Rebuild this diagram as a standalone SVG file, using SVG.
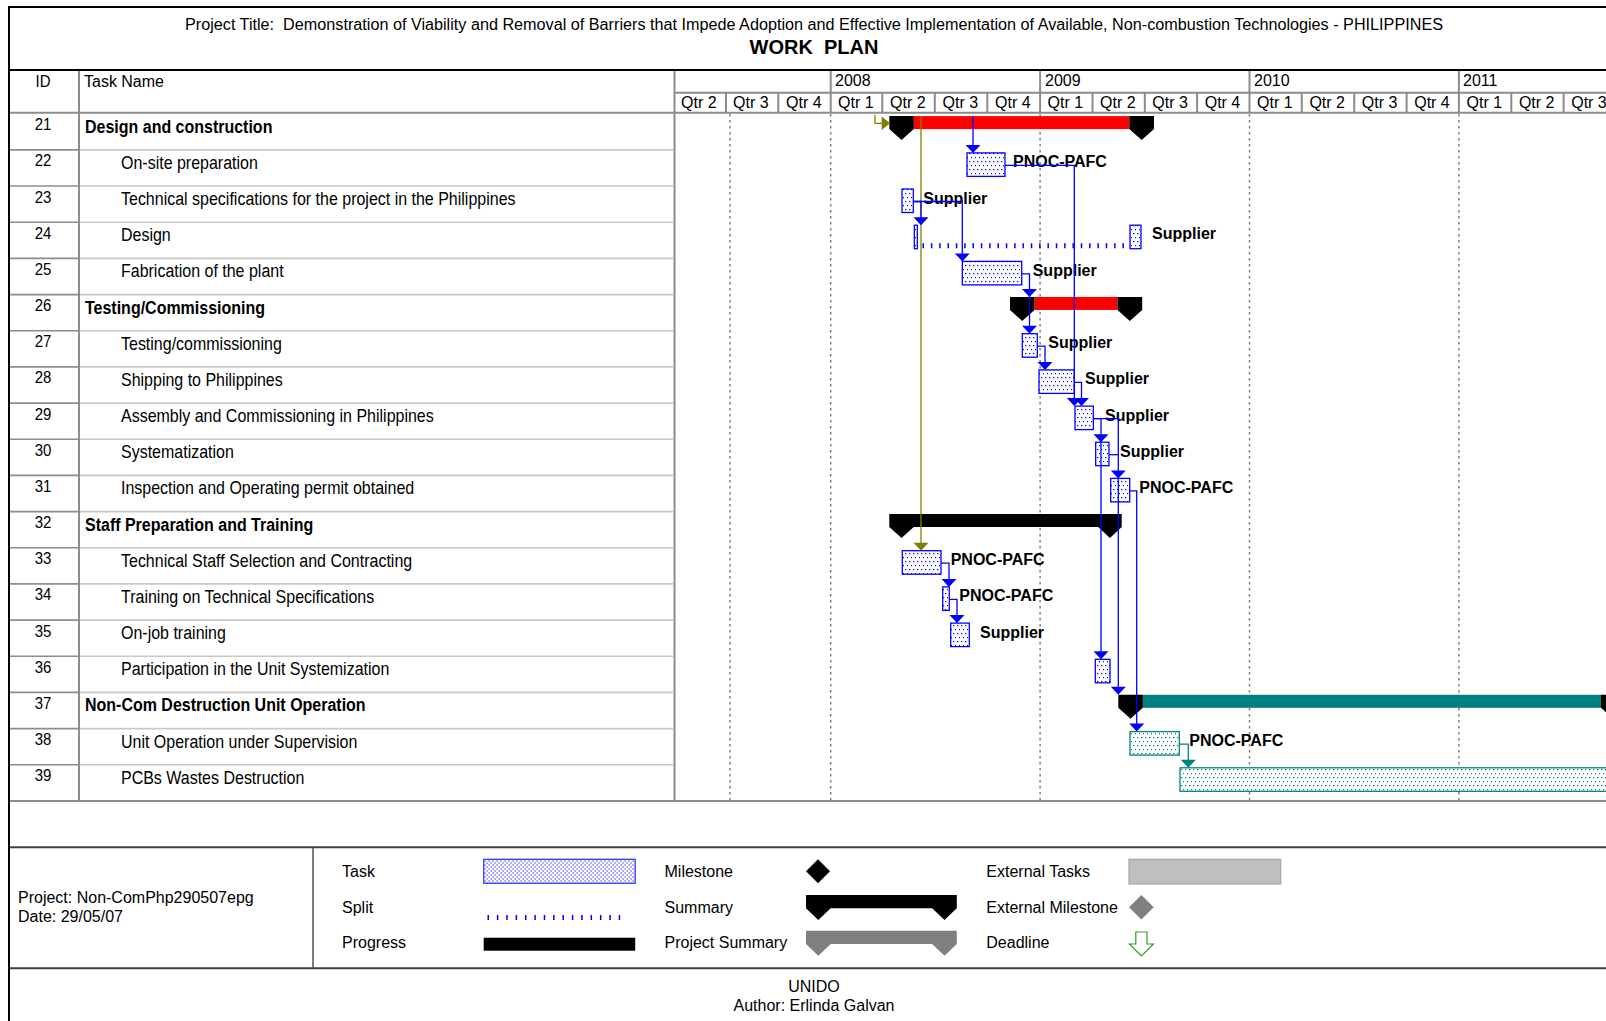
<svg xmlns="http://www.w3.org/2000/svg" width="1606" height="1021" viewBox="0 0 1606 1021">
<defs>
<style>
text{font-family:"Liberation Sans",Arial,sans-serif;font-size:16px;fill:#000}
.b{font-weight:bold}
.lbl{font-weight:bold}
.id{text-anchor:middle;font-size:15px}
.mid{text-anchor:middle}
.rl{stroke:#c8c8c8;stroke-width:1.6}
.rlid{stroke:#8c8c8c;stroke-width:1.6}
.grid{stroke:#808080;stroke-width:1.5;stroke-dasharray:2.5 3.5;fill:none}
.hl{stroke:#8c8c8c;stroke-width:2;fill:none}
.frame{stroke:#000;stroke-width:2;fill:none}
.fl{stroke:#404040;stroke-width:2;fill:none}
.task{fill:url(#dotB);stroke:#0000ff;stroke-width:1.3}
.ttask{fill:url(#dotT);stroke:#008080;stroke-width:1.3}
.lnk{fill:none;stroke:#0000ff;stroke-width:1.3}
.arr{fill:#0000ff}
.olnk{fill:none;stroke:#808000;stroke-width:1.3}
.oarr{fill:#808000}
.tlnk{fill:none;stroke:#008080;stroke-width:1.3}
.tarr{fill:#008080}
.split{fill:none;stroke:#0000ff;stroke-width:5}
</style>
<pattern id="dotB" width="4" height="8" patternUnits="userSpaceOnUse"><rect width="4" height="8" fill="#fff"/><rect x="1" y="1" width="1.3" height="1.2" fill="#0000ff"/><rect x="3" y="5" width="1" height="1.2" fill="#0000ff"/></pattern>
<pattern id="dotT" width="4" height="8" patternUnits="userSpaceOnUse"><rect width="4" height="8" fill="#fff"/><rect x="1" y="1" width="1.3" height="1.2" fill="#008080"/><rect x="3" y="5" width="1" height="1.2" fill="#008080"/></pattern>
<pattern id="dotL" width="4" height="4" patternUnits="userSpaceOnUse"><rect width="4" height="4" fill="#fff"/><rect x="0.5" y="0.5" width="1.2" height="1" fill="#0000ff"/><rect x="2.5" y="2.5" width="1.2" height="1" fill="#0000ff"/></pattern>
</defs>
<rect width="1606" height="1021" fill="#fff"/>

<g id="frame">
<line class="frame" x1="8" y1="7" x2="1606" y2="7"/>
<line class="frame" x1="9" y1="6" x2="9" y2="1021"/>
<line class="frame" x1="9" y1="70" x2="1606" y2="70"/>
<text class="mid" x="814" y="29.5" xml:space="preserve" textLength="1258" lengthAdjust="spacingAndGlyphs">Project Title:  Demonstration of Viability and Removal of Barriers that Impede Adoption and Effective Implementation of Available, Non-combustion Technologies - PHILIPPINES</text>
<text class="mid b" x="814" y="54" style="font-size:20px" xml:space="preserve">WORK  PLAN</text>
</g>

<g id="table-grid">
<line class="hl" x1="10" y1="112.7" x2="1606" y2="112.7"/>
<line class="hl" x1="674" y1="92.7" x2="1606" y2="92.7"/>
<line class="hl" x1="79" y1="71" x2="79" y2="801"/>
<line class="hl" x1="674.5" y1="71" x2="674.5" y2="801"/>
<line class="hl" x1="830.7" y1="71" x2="830.7" y2="112.7"/>
<line class="hl" x1="1040.1" y1="71" x2="1040.1" y2="112.7"/>
<line class="hl" x1="1249.5" y1="71" x2="1249.5" y2="112.7"/>
<line class="hl" x1="1458.9" y1="71" x2="1458.9" y2="112.7"/>
<g class="hl">
<line x1="726" y1="92.7" x2="726" y2="112.7"/><line x1="778.3" y1="92.7" x2="778.3" y2="112.7"/>
<line x1="882.3" y1="92.7" x2="882.3" y2="112.7"/><line x1="934.8" y1="92.7" x2="934.8" y2="112.7"/><line x1="987.3" y1="92.7" x2="987.3" y2="112.7"/>
<line x1="1092.5" y1="92.7" x2="1092.5" y2="112.7"/><line x1="1144.8" y1="92.7" x2="1144.8" y2="112.7"/><line x1="1197.1" y1="92.7" x2="1197.1" y2="112.7"/>
<line x1="1301.8" y1="92.7" x2="1301.8" y2="112.7"/><line x1="1354.2" y1="92.7" x2="1354.2" y2="112.7"/><line x1="1406.6" y1="92.7" x2="1406.6" y2="112.7"/>
<line x1="1511.3" y1="92.7" x2="1511.3" y2="112.7"/><line x1="1563.6" y1="92.7" x2="1563.6" y2="112.7"/>
</g>
<text class="id" transform="matrix(1,0,0,1.08,43,86.5)">ID</text>
<text transform="matrix(1,0,0,1.08,84,86.5)">Task Name</text>
<text x="835" y="86">2008</text><text x="1045" y="86">2009</text><text x="1254" y="86">2010</text><text x="1463" y="86">2011</text>
<text x="681" y="108.3">Qtr 2</text><text x="733" y="108.3">Qtr 3</text><text x="786" y="108.3">Qtr 4</text>
<text x="838" y="108.3">Qtr 1</text><text x="890" y="108.3">Qtr 2</text><text x="942.5" y="108.3">Qtr 3</text><text x="995" y="108.3">Qtr 4</text>
<text x="1047.5" y="108.3">Qtr 1</text><text x="1100" y="108.3">Qtr 2</text><text x="1152.3" y="108.3">Qtr 3</text><text x="1204.7" y="108.3">Qtr 4</text>
<text x="1257" y="108.3">Qtr 1</text><text x="1309.4" y="108.3">Qtr 2</text><text x="1361.8" y="108.3">Qtr 3</text><text x="1414.2" y="108.3">Qtr 4</text>
<text x="1466.5" y="108.3">Qtr 1</text><text x="1518.9" y="108.3">Qtr 2</text><text x="1571.2" y="108.3">Qtr 3</text>
<g class="rlid">
<line x1="10" y1="149.9" x2="79" y2="149.9"/><line x1="10" y1="186.0" x2="79" y2="186.0"/><line x1="10" y1="222.2" x2="79" y2="222.2"/><line x1="10" y1="258.4" x2="79" y2="258.4"/><line x1="10" y1="294.6" x2="79" y2="294.6"/><line x1="10" y1="330.7" x2="79" y2="330.7"/><line x1="10" y1="366.9" x2="79" y2="366.9"/><line x1="10" y1="403.1" x2="79" y2="403.1"/><line x1="10" y1="439.2" x2="79" y2="439.2"/><line x1="10" y1="475.4" x2="79" y2="475.4"/><line x1="10" y1="511.6" x2="79" y2="511.6"/><line x1="10" y1="547.7" x2="79" y2="547.7"/><line x1="10" y1="583.9" x2="79" y2="583.9"/><line x1="10" y1="620.1" x2="79" y2="620.1"/><line x1="10" y1="656.3" x2="79" y2="656.3"/><line x1="10" y1="692.4" x2="79" y2="692.4"/><line x1="10" y1="728.6" x2="79" y2="728.6"/><line x1="10" y1="764.8" x2="79" y2="764.8"/>
</g>
<g class="rl">
<line x1="80" y1="149.9" x2="673.5" y2="149.9"/><line x1="80" y1="186.0" x2="673.5" y2="186.0"/><line x1="80" y1="222.2" x2="673.5" y2="222.2"/><line x1="80" y1="258.4" x2="673.5" y2="258.4"/><line x1="80" y1="294.6" x2="673.5" y2="294.6"/><line x1="80" y1="330.7" x2="673.5" y2="330.7"/><line x1="80" y1="366.9" x2="673.5" y2="366.9"/><line x1="80" y1="403.1" x2="673.5" y2="403.1"/><line x1="80" y1="439.2" x2="673.5" y2="439.2"/><line x1="80" y1="475.4" x2="673.5" y2="475.4"/><line x1="80" y1="511.6" x2="673.5" y2="511.6"/><line x1="80" y1="547.7" x2="673.5" y2="547.7"/><line x1="80" y1="583.9" x2="673.5" y2="583.9"/><line x1="80" y1="620.1" x2="673.5" y2="620.1"/><line x1="80" y1="656.3" x2="673.5" y2="656.3"/><line x1="80" y1="692.4" x2="673.5" y2="692.4"/><line x1="80" y1="728.6" x2="673.5" y2="728.6"/><line x1="80" y1="764.8" x2="673.5" y2="764.8"/>
</g>
<line class="hl" x1="10" y1="801" x2="1606" y2="801"/>
<g class="grid">
<line x1="730" y1="114" x2="730" y2="800"/><line x1="830.7" y1="114" x2="830.7" y2="800"/><line x1="1040.1" y1="114" x2="1040.1" y2="800"/><line x1="1249.5" y1="114" x2="1249.5" y2="800"/><line x1="1458.9" y1="114" x2="1458.9" y2="800"/>
</g>
</g>

<g id="task-21">
<text class="id" transform="matrix(1,0,0,1.08,43,130.2)">21</text>
<text class="b" transform="matrix(1,0,0,1.14,85,132.7)">Design and construction</text>
<rect x="913.8" y="116.1" width="215.5" height="13" fill="#ff0000"/>
<path d="M889.3,116.1H913.8V129.1L901.5,140.1L889.3,129.1Z" fill="#000"/>
<path d="M1129.3,116.1H1154V129.1L1141.6,140.1L1129.3,129.1Z" fill="#000"/>
</g>
<g id="task-22">
<text class="id" transform="matrix(1,0,0,1.08,43,166.4)">22</text>
<text transform="matrix(1,0,0,1.14,121,168.9)">On-site preparation</text>
<rect class="task" x="967" y="152.9" width="38" height="23.5"/>
<text class="lbl" x="1013" y="167.4">PNOC-PAFC</text>
</g>
<g id="task-23">
<text class="id" transform="matrix(1,0,0,1.08,43,202.5)">23</text>
<text transform="matrix(1,0,0,1.14,121,205)">Technical specifications for the project in the Philippines</text>
<rect class="task" x="902" y="189" width="11.3" height="23.5"/>
<text class="lbl" x="923.3" y="203.5">Supplier</text>
</g>
<g id="task-24">
<text class="id" transform="matrix(1,0,0,1.08,43,238.7)">24</text>
<text transform="matrix(1,0,0,1.14,121,241.2)">Design</text>
<rect class="task" x="914.3" y="225.2" width="3" height="23.5"/>
<path class="split" d="M922.5,245.8H1128" stroke-dasharray="1.5 6.83"/>
<rect class="task" x="1130" y="225.2" width="11" height="23.5"/>
<text class="lbl" x="1152" y="239.2">Supplier</text>
</g>
<g id="task-25">
<text class="id" transform="matrix(1,0,0,1.08,43,274.9)">25</text>
<text transform="matrix(1,0,0,1.14,121,277.4)">Fabrication of the plant</text>
<rect class="task" x="962.3" y="261.4" width="59.4" height="23.5"/>
<text class="lbl" x="1032.7" y="275.9">Supplier</text>
</g>
<g id="task-26">
<text class="id" transform="matrix(1,0,0,1.08,43,311.1)">26</text>
<text class="b" transform="matrix(1,0,0,1.14,85,313.6)">Testing/Commissioning</text>
<rect x="1034.5" y="296.95" width="83" height="13" fill="#ff0000"/>
<path d="M1010,296.95H1034.5V309.95L1022.2,320.95L1010,309.95Z" fill="#000"/>
<path d="M1117.5,296.95H1142.2V309.95L1129.8,320.95L1117.5,309.95Z" fill="#000"/>
</g>
<g id="task-27">
<text class="id" transform="matrix(1,0,0,1.08,43,347.2)">27</text>
<text transform="matrix(1,0,0,1.14,121,349.7)">Testing/commissioning</text>
<rect class="task" x="1022.3" y="333.7" width="15" height="23.5"/>
<text class="lbl" x="1048.3" y="348.2">Supplier</text>
</g>
<g id="task-28">
<text class="id" transform="matrix(1,0,0,1.08,43,383.4)">28</text>
<text transform="matrix(1,0,0,1.14,121,385.9)">Shipping to Philippines</text>
<rect class="task" x="1039" y="369.9" width="35.3" height="23.5"/>
<text class="lbl" x="1085" y="384.4">Supplier</text>
</g>
<g id="task-29">
<text class="id" transform="matrix(1,0,0,1.08,43,419.6)">29</text>
<text transform="matrix(1,0,0,1.14,121,422.1)">Assembly and Commissioning in Philippines</text>
<rect class="task" x="1075" y="406.1" width="18.3" height="23.5"/>
<text class="lbl" x="1105" y="420.6">Supplier</text>
</g>
<g id="task-30">
<text class="id" transform="matrix(1,0,0,1.08,43,455.7)">30</text>
<text transform="matrix(1,0,0,1.14,121,458.2)">Systematization</text>
<rect class="task" x="1095.7" y="442.2" width="13.3" height="23.5"/>
<text class="lbl" x="1120" y="456.7">Supplier</text>
</g>
<g id="task-31">
<text class="id" transform="matrix(1,0,0,1.08,43,491.9)">31</text>
<text transform="matrix(1,0,0,1.14,121,494.4)">Inspection and Operating permit obtained</text>
<rect class="task" x="1110.7" y="478.4" width="19" height="23.5"/>
<text class="lbl" x="1139.3" y="492.9">PNOC-PAFC</text>
</g>
<g id="task-32">
<text class="id" transform="matrix(1,0,0,1.08,43,528.1)">32</text>
<text class="b" transform="matrix(1,0,0,1.14,85,530.6)">Staff Preparation and Training</text>
<path d="M889.3,513.97H1121.7V526.97L1109.9,537.97L1098.2,526.97H913.8L901.5,537.97L889.3,526.97Z" fill="#000"/>
</g>
<g id="task-33">
<text class="id" transform="matrix(1,0,0,1.08,43,564.2)">33</text>
<text transform="matrix(1,0,0,1.14,121,566.7)">Technical Staff Selection and Contracting</text>
<rect class="task" x="902.3" y="550.7" width="38.7" height="23.5"/>
<text class="lbl" x="950.7" y="565.2">PNOC-PAFC</text>
</g>
<g id="task-34">
<text class="id" transform="matrix(1,0,0,1.08,43,600.4)">34</text>
<text transform="matrix(1,0,0,1.14,121,602.9)">Training on Technical Specifications</text>
<rect class="task" x="942.7" y="586.9" width="6.6" height="23.5"/>
<text class="lbl" x="959.3" y="601.4">PNOC-PAFC</text>
</g>
<g id="task-35">
<text class="id" transform="matrix(1,0,0,1.08,43,636.6)">35</text>
<text transform="matrix(1,0,0,1.14,121,639.1)">On-job training</text>
<rect class="task" x="950.7" y="623.1" width="18.6" height="23.5"/>
<text class="lbl" x="980" y="637.6">Supplier</text>
</g>
<g id="task-36">
<text class="id" transform="matrix(1,0,0,1.08,43,672.8)">36</text>
<text transform="matrix(1,0,0,1.14,121,675.3)">Participation in the Unit Systemization</text>
<rect class="task" x="1095.3" y="659.3" width="14.7" height="23.5"/>
</g>
<g id="task-37">
<text class="id" transform="matrix(1,0,0,1.08,43,708.9)">37</text>
<text class="b" transform="matrix(1,0,0,1.14,85,711.4)">Non-Com Destruction Unit Operation</text>
<rect x="1142.5" y="694.8" width="459" height="13" fill="#008080"/>
<path d="M1118.3,694.8H1142.8V707.8L1130.5,718.8L1118.3,707.8Z" fill="#000"/>
<path d="M1601,694.8H1625.5V707.8L1613.2,718.8L1601,707.8Z" fill="#000"/>
</g>
<g id="task-38">
<text class="id" transform="matrix(1,0,0,1.08,43,745.1)">38</text>
<text transform="matrix(1,0,0,1.14,121,747.6)">Unit Operation under Supervision</text>
<rect class="ttask" x="1130" y="731.6" width="49.3" height="23.5"/>
<text class="lbl" x="1189.3" y="746.1">PNOC-PAFC</text>
</g>
<g id="task-39">
<text class="id" transform="matrix(1,0,0,1.08,43,781.3)">39</text>
<text transform="matrix(1,0,0,1.14,121,783.8)">PCBs Wastes Destruction</text>
<rect class="ttask" x="1180" y="767.8" width="440" height="23.5"/>
</g>

<g id="connectors">
<path class="olnk" d="M875,115V123.3H882"/>
<polygon class="oarr" points="881.7,116.5 890,123.3 881.7,130.1"/>
<path class="olnk" d="M921,116.1V544"/>
<polygon class="oarr" points="913.5,542.7 928.5,542.7 921,550.7"/>
<path class="lnk" d="M973,116.1V146"/>
<polygon class="arr" points="965.5,144.9 980.5,144.9 973,152.9"/>
<path class="lnk" d="M1005,165.4H1074.3V400"/>
<polygon class="arr" points="1066.8,398.1 1081.8,398.1 1074.3,406.1"/>
<path class="lnk" d="M913.3,201.5H921V219"/>
<polygon class="arr" points="913.5,217.2 928.5,217.2 921,225.2"/>
<path class="lnk" d="M913.3,201.5H962.3V255"/>
<polygon class="arr" points="954.8,253.4 969.8,253.4 962.3,261.4"/>
<path class="lnk" d="M1021.7,273.9H1029.5V327"/>
<polygon class="arr" points="1022,288.95 1037,288.95 1029.5,296.95"/>
<polygon class="arr" points="1022,325.7 1037,325.7 1029.5,333.7"/>
<path class="lnk" d="M1037.3,346.2H1045V363"/>
<polygon class="arr" points="1037.5,361.9 1052.5,361.9 1045,369.9"/>
<path class="lnk" d="M1074.3,382.4H1081.5V400"/>
<polygon class="arr" points="1074,398.1 1089,398.1 1081.5,406.1"/>
<path class="lnk" d="M1093.3,418.6H1101V653"/>
<polygon class="arr" points="1093.5,434.2 1108.5,434.2 1101,442.2"/>
<polygon class="arr" points="1093.5,651.3 1108.5,651.3 1101,659.3"/>
<path class="lnk" d="M1093.3,418.6H1118.3V688"/>
<path class="lnk" d="M1109,454.7H1118.3"/>
<polygon class="arr" points="1110.8,470.4 1125.8,470.4 1118.3,478.4"/>
<polygon class="arr" points="1110.8,686.8 1125.8,686.8 1118.3,694.8"/>
<path class="lnk" d="M1129.7,490.9H1136.7V725"/>
<polygon class="arr" points="1129.2,723.6 1144.2,723.6 1136.7,731.6"/>
<path class="lnk" d="M941,563.2H949V580"/>
<polygon class="arr" points="941.5,578.9 956.5,578.9 949,586.9"/>
<path class="lnk" d="M949.3,599.4H957V617"/>
<polygon class="arr" points="949.5,615.1 964.5,615.1 957,623.1"/>
<path class="tlnk" d="M1179.3,744.1H1188.3V761"/>
<polygon class="tarr" points="1180.8,759.8 1195.8,759.8 1188.3,767.8"/>
</g>

<g id="footer">
<line class="fl" x1="10" y1="847.3" x2="1606" y2="847.3"/>
<line class="fl" x1="10" y1="968.3" x2="1606" y2="968.3"/>
<line x1="313" y1="848" x2="313" y2="968" stroke="#505050" stroke-width="1.5"/>
<text x="18" y="903">Project: Non-ComPhp290507epg</text>
<text x="18" y="922">Date: 29/05/07</text>
<text class="mid" x="814" y="992">UNIDO</text>
<text class="mid" x="814" y="1010.5">Author: Erlinda Galvan</text>
</g>
<g id="legend">
<text x="342" y="877">Task</text>
<text x="342" y="913">Split</text>
<text x="342" y="948">Progress</text>
<rect x="483.7" y="859.3" width="151.5" height="24" fill="url(#dotL)" stroke="#3c3cff" stroke-width="1.3"/>
<path class="split" d="M487.5,917.5H628" stroke-dasharray="1.5 7.87"/>
<rect x="483.7" y="937.7" width="151.5" height="13" fill="#000"/>
<text x="664.5" y="877">Milestone</text>
<text x="664.5" y="913">Summary</text>
<text x="664.5" y="948">Project Summary</text>
<path d="M818,859.3L830,871.3L818,883.3L806,871.3Z" fill="#000"/>
<path d="M806,895H956.8V908.3L944.5,920L932.1,908.3H830.7L818.3,920L806,908.3Z" fill="#000"/>
<path d="M806,930.7H956.8V944L944.5,955.7L932.1,944H830.7L818.3,955.7L806,944Z" fill="#808080"/>
<text x="986.3" y="877">External Tasks</text>
<text x="986.3" y="913">External Milestone</text>
<text x="986.3" y="948">Deadline</text>
<rect x="1129" y="859.3" width="151.7" height="24.7" fill="#bfbfbf" stroke="#a6a6a6" stroke-width="1.2"/>
<path d="M1141.4,895L1153.7,907.2L1141.4,919.4L1129,907.2Z" fill="#808080"/>
<path d="M1135.8,932H1147V944H1153.4L1141.4,956L1129.4,944H1135.8Z" fill="#fff" stroke="#2e9e2e" stroke-width="1.2"/>
</g>
</svg>
